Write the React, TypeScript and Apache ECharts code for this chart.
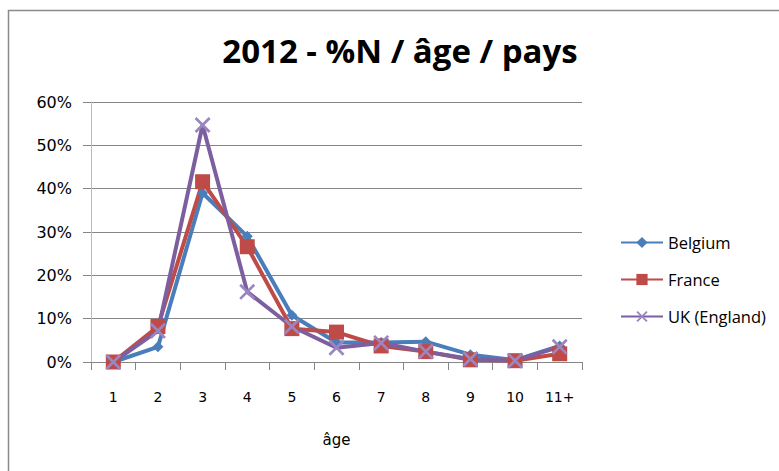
import React, { useEffect, useRef } from "react";
import * as echarts from "echarts";

const categories = ["1", "2", "3", "4", "5", "6", "7", "8", "9", "10", "11+"];
const belgium = [0.0, 0.035, 0.39, 0.29, 0.108, 0.045, 0.045, 0.047, 0.017, 0.004, 0.037];
const france = [0.0, 0.082, 0.416, 0.266, 0.077, 0.069, 0.037, 0.024, 0.005, 0.003, 0.019];
const uk = [0.0, 0.072, 0.547, 0.162, 0.082, 0.033, 0.044, 0.024, 0.007, 0.003, 0.035];
const yTicks = [0, 0.1, 0.2, 0.3, 0.4, 0.5, 0.6];

const FONT = "DejaVu Sans";
const CROSS = "path://M0,1.2L1.2,0L10,8.8L8.8,10Z M8.8,0L10,1.2L1.2,10L0,8.8Z";

export default function App() {
  const ref = useRef<HTMLDivElement>(null);
  useEffect(() => {
    if (!ref.current) return;
    const chart = echarts.init(ref.current, null, { renderer: "svg" });
    const lineW = 4;
    chart.setOption({
      animation: false,
      backgroundColor: "#fff",
      textStyle: { fontFamily: FONT },
      graphic: [
        {
          type: "rect",
          shape: { x: 8.5, y: 10.5, width: 820, height: 520 },
          style: { fill: "none", stroke: "#8a8a8a", lineWidth: 1.5 },
          silent: true,
          z: -1,
        },
        {
          type: "text",
          x: 400,
          y: 50,
          style: {
            text: "2012 - %N / âge / pays",
            font: "bold 33px 'Open Sans'",
            fill: "#000",
            textAlign: "center",
            textVerticalAlign: "middle",
          },
        },
      ],
      legend: {
        orient: "vertical",
        left: 615,
        top: 229,
        itemGap: 20,
        itemWidth: 42,
        itemHeight: 14,
        textStyle: { fontFamily: "Open Sans", fontSize: 16.5, color: "#000" },
        data: ["Belgium", "France", "UK (England)"],
      },
      grid: { left: 91, right: 197, top: 102, bottom: 109, containLabel: false },
      xAxis: {
        type: "category",
        data: categories,
        boundaryGap: true,
        name: "âge",
        nameLocation: "middle",
        nameGap: 70,
        nameTextStyle: { fontFamily: FONT, fontSize: 15, color: "#000" },
        axisLine: { lineStyle: { color: "#868686", width: 1 } },
        axisTick: { show: true, length: 8, lineStyle: { color: "#868686" } },
        axisLabel: { margin: 28, fontFamily: FONT, fontSize: 14, color: "#000" },
      },
      yAxis: {
        type: "value",
        min: yTicks[0],
        max: yTicks[yTicks.length - 1],
        interval: 0.1,
        axisLine: { show: true, lineStyle: { color: "#bdbdbd", width: 1 } },
        axisTick: { show: true, length: 8, lineStyle: { color: "#868686" } },
        splitLine: { lineStyle: { color: "#868686", width: 1 } },
        axisLabel: {
          margin: 19,
          fontFamily: FONT,
          fontSize: 16,
          color: "#000",
          formatter: (v: number) => Math.round(v * 100) + "%",
        },
      },
      series: [
        {
          name: "Belgium",
          type: "line",
          data: belgium,
          symbol: "diamond",
          symbolSize: 11,
          lineStyle: { color: "#4a7ebb", width: lineW },
          itemStyle: { color: "#4a7ebb" },
        },
        {
          name: "France",
          type: "line",
          data: france,
          symbol: "rect",
          symbolSize: 15,
          lineStyle: { color: "#be4b48", width: lineW },
          itemStyle: { color: "#be4b48" },
        },
        {
          name: "UK (England)",
          type: "line",
          data: uk,
          symbol: CROSS,
          symbolSize: 16,
          lineStyle: { color: "#7d5fa0", width: lineW },
          itemStyle: { color: "#9b86c2" },
        },
      ],
    });
    return () => chart.dispose();
  }, []);
  return <div ref={ref} style={{ width: 779, height: 471, position: "absolute", left: 0, top: 0 }} />;
}
